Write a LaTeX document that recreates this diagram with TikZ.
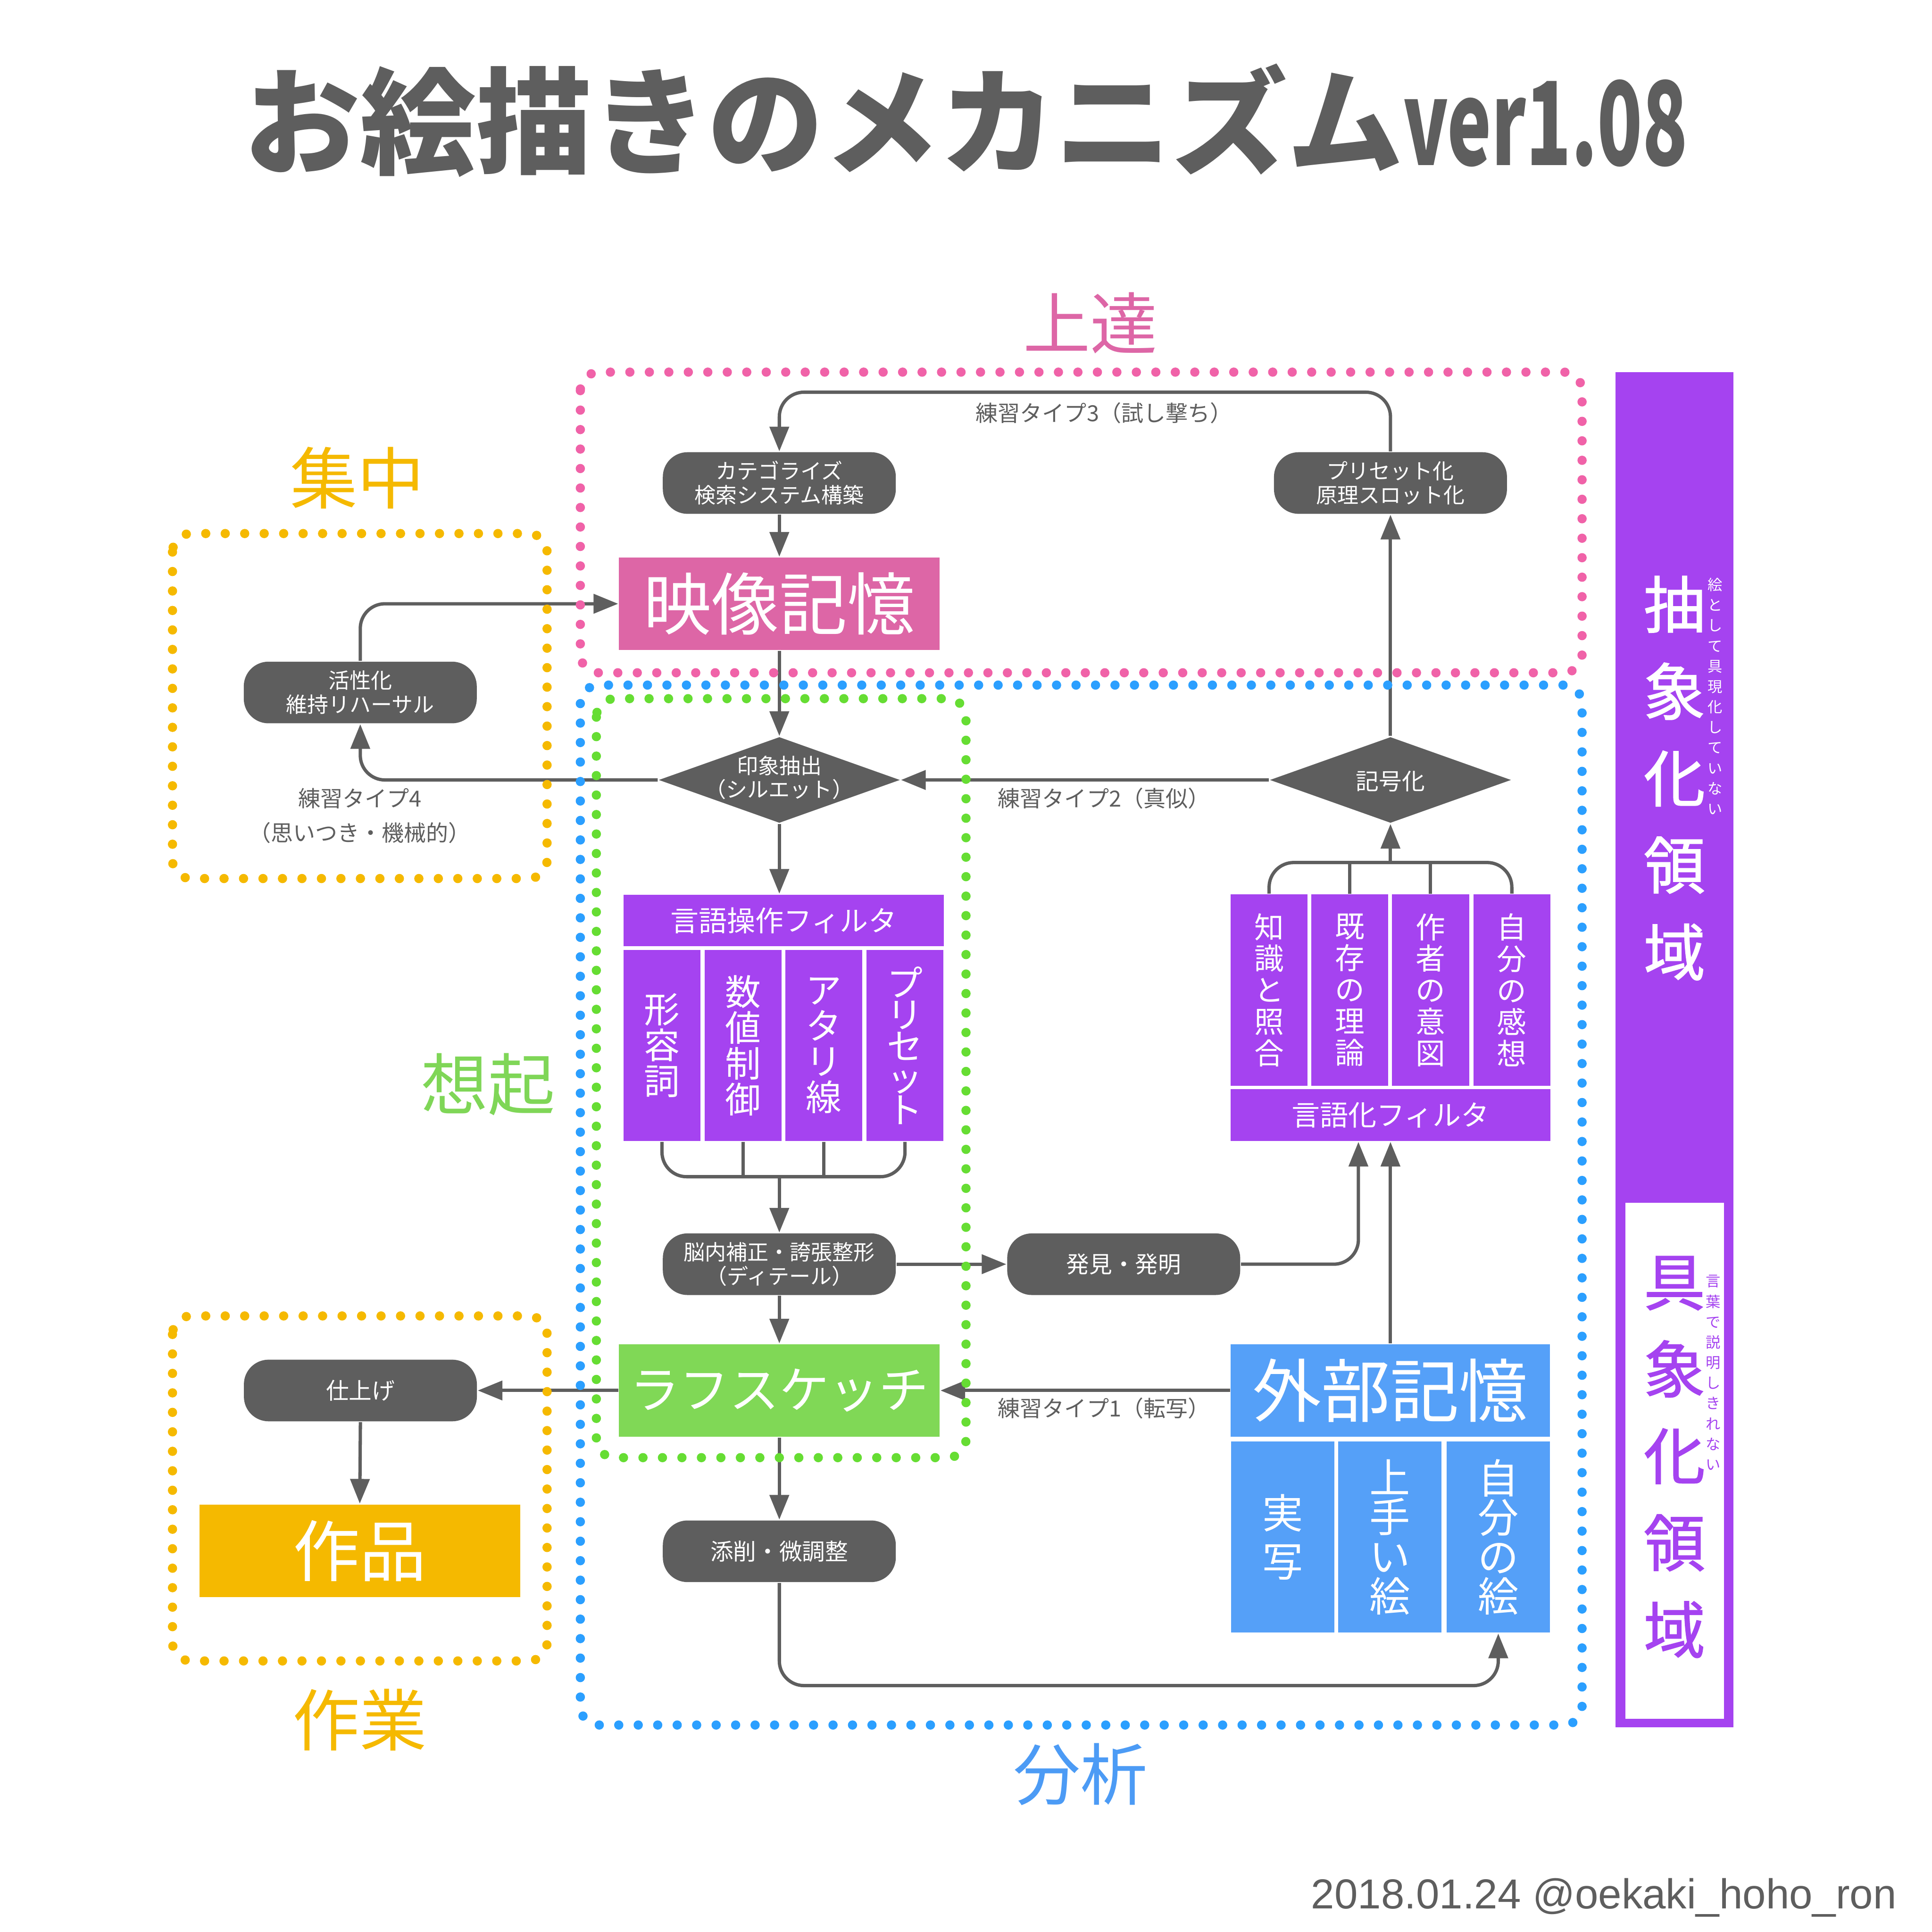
\documentclass[tikz,border=0pt]{standalone}
\usepackage{fontspec}
\setmainfont{Noto Sans CJK JP}
\newfontfamily\footfont{Liberation Sans}
\usetikzlibrary{arrows.meta,shapes.geometric}
\definecolor{dg}{HTML}{5E5E5E}
\definecolor{pinkbox}{HTML}{DD66A6}
\definecolor{pinkdot}{HTML}{F062A8}
\definecolor{yel}{HTML}{F5B900}
\definecolor{grnbox}{HTML}{80D856}
\definecolor{grndot}{HTML}{66DD33}
\definecolor{bluedot}{HTML}{2B9FFF}
\definecolor{bluebox}{HTML}{55A0F8}
\definecolor{purp}{HTML}{A543F0}
\definecolor{grntxt}{HTML}{7FD657}
\definecolor{bluetxt}{HTML}{4C9BF5}
\newcommand\fsz[2]{\fontsize{#1pt}{#2pt}\selectfont\lineskiplimit=-100pt\relax}
\tikzset{
  conn/.style={draw=dg, line width=0.027cm},
  arr/.style={conn, -{Triangle[length=0.2cm,width=0.155cm]}},
  pill/.style={fill=dg, rounded corners=0.2cm, minimum width=1.89cm, minimum height=0.5cm, inner sep=0pt, text=white, align=center, font=\fsz{4.9}{5.55}},
  dia/.style={diamond, fill=dg, minimum width=1.96cm, minimum height=0.70cm, inner sep=0pt, aspect=2.8},
  dtext/.style={text=white, align=center, inner sep=0pt, font=\fsz{4.9}{5.4}},
  box/.style={inner sep=0pt, text=white},
  col/.style={fill=purp, minimum height=1.55cm, minimum width=0.625cm, inner sep=0pt, text=white, align=center, font=\fsz{8.25}{8.25}},
  kcol/.style={fill=purp, minimum height=1.55cm, minimum width=0.625cm, inner sep=0pt, text=white, align=center, font=\fsz{6.83}{7.28}},
  bcol/.style={fill=bluebox, minimum height=1.55cm, minimum width=0.84cm, inner sep=0pt, text=white, align=center, font=\fsz{9.4}{9.1}},
  dots/.style={line width=0.075cm, line cap=round, dash pattern=on 0pt off 0.158cm, rounded corners=0.15cm},
  lbl/.style={text=dg, inner sep=0pt, align=center, font=\fsz{5.12}{7.97}},
  big/.style={inner sep=0pt, font=\fsz{15.5}{18}},
  vbig/.style={inner sep=0pt, align=center, font=\addfontfeatures{FakeBold=1.3}\fsz{14.2}{20.06}},
  vsmall/.style={inner sep=0pt, align=center, font=\fsz{3.4}{4.7}}
}
\begin{document}
\begin{tikzpicture}[x=0.01cm,y=-0.01cm]
\useasboundingbox[fill=white] (0,0) rectangle (1568,1568);

% title
\node[anchor=base, text=dg, inner sep=0pt, font=\bfseries\fsz{26.75}{30}] (title) at (784,134) {お絵描きのメカニズム\scalebox{0.64}[1]{ver1.08}};

% purple region bar
\fill[purp] (1311,302) rectangle (1407,1402);
\fill[white] (1319,976) rectangle (1399,1395);
\node[vbig, text=white] (abs) at (1359,631.5) {抽\\象\\化\\領\\域};
\node[vsmall, text=white] (absn) at (1392,565) {絵\\と\\し\\て\\具\\現\\化\\し\\て\\い\\な\\い};
\node[vbig, text=purp] (con) at (1359,1182.5) {具\\象\\化\\領\\域};
\node[vsmall, text=purp] (conn) at (1390.5,1114) {言\\葉\\で\\説\\明\\し\\き\\れ\\な\\い};

% nodes
\node[pill] (cat) at (632.5,392) {カテゴライズ\\検索システム構築};
\node[pill] (pre) at (1128.5,392) {プリセット化\\原理スロット化};
\node[box, fill=pinkbox, minimum width=2.60cm, minimum height=0.75cm, font=\fsz{15.65}{18}] (mem) at (632.5,490) {映像記憶};
\node[pill] (act) at (292.4,562) {活性化\\維持リハーサル};
\node[dia] (imp) at (632.5,633) {};
\node[dtext] (impt) at (632.5,631) {印象抽出\\（シルエット）};
\node[dia] (sym) at (1128.5,633) {};
\node[dtext, font=\fsz{5.3}{6}] (symt) at (1128.5,634) {記号化};

\node[box, fill=purp, minimum width=2.60cm, minimum height=0.42cm, font=\fsz{6.54}{7.5}] (lf) at (636,747) {言語操作フィルタ};
\node[col] (c1) at (537.25,848.5) {形\\容\\詞};
\node[col] (c2) at (603,848.5) {数\\値\\制\\御};
\node[col] (c3) at (668.6,848.5) {ア\\タ\\リ\\線};
\node[col, font=\fsz{8.25}{7.3}] (c4) at (734.5,848.5) {プ\\リ\\セ\\ッ\\ト};

\node[kcol] (k1) at (1030,803.5) {知\\識\\と\\照\\合};
\node[kcol] (k2) at (1095.5,803.5) {既\\存\\の\\理\\論};
\node[kcol] (k3) at (1161,803.5) {作\\者\\の\\意\\図};
\node[kcol] (k4) at (1227,803.5) {自\\分\\の\\感\\想};
\node[box, fill=purp, minimum width=2.595cm, minimum height=0.42cm, font=\fsz{6.54}{7.5}] (vf) at (1128.5,905) {言語化フィルタ};

\node[pill] (nou) at (632.5,1026) {脳内補正・誇張整形\\（ディテール）};
\node[pill, font=\fsz{5.3}{6}] (dis) at (912,1026) {発見・発明};
\node[box, fill=grnbox, minimum width=2.60cm, minimum height=0.75cm, font=\fsz{11.5}{13}] (rough) at (632.5,1128.5) {ラフスケッチ};
\node[box, fill=bluebox, minimum width=2.59cm, minimum height=0.75cm, font=\fsz{15.9}{18}] (ext) at (1128.5,1128.5) {外部記憶};
\node[bcol, font=\fsz{9.4}{11.1}] (e1) at (1041,1247.5) {実\\写};
\node[bcol] (e2) at (1128,1247.5) {上\\手\\い\\絵};
\node[bcol] (e3) at (1216,1247.5) {自\\分\\の\\絵};

\node[pill, font=\fsz{5.3}{6}] (fin) at (292.5,1128.5) {仕上げ};
\node[box, fill=yel, minimum width=2.60cm, minimum height=0.75cm, font=\fsz{15.4}{18}] (work) at (292,1258.5) {作品};
\node[pill, font=\fsz{5.3}{6}] (ten) at (632.5,1259) {添削・微調整};

% connectors
\draw[arr] (cat.south) -- (mem.north);
\draw[arr, rounded corners=0.2cm] (pre.north) -- ++(0,-48) -| (cat.north);
\draw[arr] (sym.north) -- (pre.south);
\draw[arr] (mem.south) -- (imp.north);
\draw[arr] (sym.west) -- (imp.east);
\draw[arr, rounded corners=0.2cm] (imp.west) -| (act.south);
\draw[arr, rounded corners=0.2cm] (act.north) |- (mem.west);
\draw[arr] (imp.south) -- (imp.south |- lf.north);
\coordinate (b1) at (632.5,955);
\draw[conn, rounded corners=0.2cm] (c1.south) -- (c1.south |- b1) -- (c4.south |- b1) -- (c4.south);
\draw[conn] (c2.south) -- (c2.south |- b1);
\draw[conn] (c3.south) -- (c3.south |- b1);
\draw[arr] (b1) -- (nou.north);
\draw[arr] (nou.east) -- (dis.west);
\draw[arr] (nou.south) -- (rough.north);
\draw[arr, rounded corners=0.2cm] (dis.east) -| ([xshift=-0.26cm]vf.south);
\draw[arr] (ext.north) -- (vf.south);
\coordinate (b2) at (1128.5,700);
\draw[conn, rounded corners=0.2cm] (k1.north) -- (k1.north |- b2) -- (k4.north |- b2) -- (k4.north);
\draw[conn] (k2.north) -- (k2.north |- b2);
\draw[conn] (k3.north) -- (k3.north |- b2);
\draw[arr] (b2) -- (sym.south);
\draw[arr] (ext.west) -- (rough.east);
\draw[arr] (rough.west) -- (fin.east);
\draw[arr] (fin.south) -- (work.north);
\draw[arr] (rough.south) -- (ten.north);
\coordinate (b3) at (632.5,1368);
\draw[arr, rounded corners=0.2cm] (ten.south) -- (b3) -| (e3.south);

% connector labels
\node[lbl] (l3) at (896,335) {練習タイプ3（試し撃ち）};
\node[lbl] (l2) at (896,648) {練習タイプ2（真似）};
\node[lbl] (l1) at (896,1143) {練習タイプ1（転写）};
\node[lbl] (l4) at (292,662) {練習タイプ4\\（思いつき・機械的）};

% dotted regions
\draw[dots, pinkdot] (471,302) rectangle (1284,546);
\draw[dots, bluedot] (471,556) rectangle (1284,1400);
\draw[dots, grndot] (484,567) rectangle (784,1183);
\draw[dots, yel] (140,433) rectangle (444,713);
\draw[dots, yel] (140,1068) rectangle (444,1348);

% region labels
\node[big, text=pinkbox] (tA) at (885,262) {上達};
\node[big, text=yel] (tB) at (290,388) {集中};
\node[big, text=grntxt] (tC) at (396,880) {想起};
\node[big, text=bluetxt] (tD) at (877,1440) {分析};
\node[big, text=yel] (tE) at (292,1396) {作業};

% footer
\node[anchor=base east, inner sep=0pt, text=dg, font=\footfont\fontsize{9.67pt}{11pt}\selectfont] (foot) at (1540,1549) {2018.01.24 @oekaki\_hoho\_ron};
\end{tikzpicture}
\end{document}
